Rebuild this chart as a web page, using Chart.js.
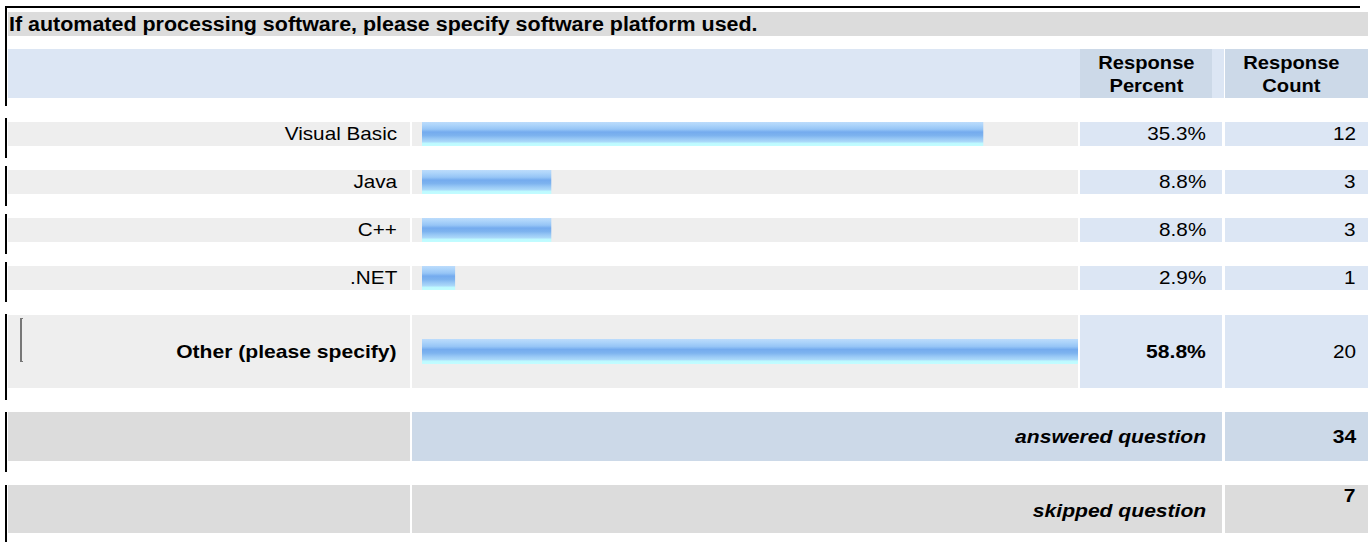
<!DOCTYPE html>
<html>
<head>
<meta charset="utf-8">
<title>Software platform</title>
<script src="https://cdn.jsdelivr.net/npm/chart.js@4/dist/chart.umd.min.js"></script>
<style>
  body { margin: 0; background: #fff; font-family: "Liberation Sans", Arial, sans-serif; color: #000; }
  #page { position: relative; width: 1368px; height: 543px; overflow: hidden; }
  .cell { position: absolute; box-sizing: border-box; display: flex; align-items: center; justify-content: flex-end; padding-right: 12px; font-size: 19px; }
  .cell .t { display: inline-block; transform: scaleX(1.09); transform-origin: right center; white-space: nowrap; }
  .cell.bold .t, .cell.bi .t { transform: scaleX(1.11); }
  .grey { background: #eeeeee; }
  .blue { background: #dce6f4; }
  .steel { background: #ccd9e8; }
  .dark { background: #dcdcdc; }
  .bold { font-weight: bold; }
  .bi { font-weight: bold; font-style: italic; }
  .edge { position: absolute; left: 5px; width: 2px; background: #000; }
  canvas { position: absolute; }
</style>
</head>
<body>
<div id="page"></div>
<script>
const title = 'If automated processing software, please specify software platform used.';
const categories = ['Visual Basic', 'Java', 'C++', '.NET', 'Other (please specify)'];
const percents = [35.3, 8.8, 8.8, 2.9, 58.8];
const counts = [12, 3, 3, 1, 20];
const answeredCount = 34;
const skippedCount = 7;

// row layout
const rowTops = [122, 170, 218, 266, 315];
const rowHeights = [24, 24, 24, 24, 73];
const page = document.getElementById('page');

function box(cls, x, y, w, h, html, extra) {
  const d = document.createElement('div');
  d.className = 'cell ' + cls;
  d.style.left = x + 'px'; d.style.top = y + 'px';
  d.style.width = w + 'px'; d.style.height = h + 'px';
  if (html !== undefined) d.innerHTML = '<span class="t">' + html + '</span>';
  if (extra) Object.assign(d.style, extra);
  page.appendChild(d);
  return d;
}

// black marks down the left side and across the top
[[6, 106], [118, 158], [166, 206], [214, 254], [262, 302], [314, 400], [412, 472], [485, 542]].forEach(s => {
  const e = document.createElement('div');
  e.className = 'edge';
  e.style.top = s[0] + 'px'; e.style.height = (s[1] - s[0]) + 'px';
  page.appendChild(e);
});
const topLine = document.createElement('div');
Object.assign(topLine.style, { position: 'absolute', left: '5px', top: '6px', width: '1355px', height: '2px', background: '#000' });
page.appendChild(topLine);

// title and header
const tt = box('dark bold', 8, 12, 1360, 24, title, { justifyContent: 'flex-start', paddingLeft: '1px', paddingRight: '0', fontSize: '19.5px' });
tt.firstChild.style.transformOrigin = 'left center';
tt.firstChild.style.transform = 'scaleX(1.1)';
box('blue', 8, 49, 1072, 49);
box('steel bold', 1080, 49, 142, 49, 'Response<br>Percent', { justifyContent: 'center', paddingRight: '10px', textAlign: 'center', lineHeight: '23px' });
box('blue', 1212, 49, 10, 49);
box('steel bold', 1225, 49, 143, 49, 'Response<br>Count', { justifyContent: 'center', paddingRight: '10px', textAlign: 'center', lineHeight: '23px' });
page.querySelectorAll('.cell .t').forEach(s => {
  if (s.innerHTML.indexOf('<br>') >= 0) { s.style.transformOrigin = 'center'; s.style.transform = 'scaleX(1.06)'; }
});

const maxIdx = percents.indexOf(Math.max(...percents));

function barFill(ctx) {
  const area = ctx.chart.chartArea;
  if (!area) return '#7fb5f0';
  const g = ctx.chart.ctx.createLinearGradient(0, area.top, 0, area.bottom);
  g.addColorStop(0, '#bcdcfc');
  g.addColorStop(0.14, '#abd3fa');
  g.addColorStop(0.3, '#96c5f6');
  g.addColorStop(0.42, '#74abee');
  g.addColorStop(0.56, '#7db3ef');
  g.addColorStop(0.7, '#98c8f5');
  g.addColorStop(0.83, '#acdafa');
  g.addColorStop(0.88, '#bdf9ff');
  g.addColorStop(1, '#c2fdff');
  return g;
}

categories.forEach((cat, i) => {
  const y = rowTops[i], h = rowHeights[i];
  const strong = i === maxIdx;
  box('grey' + (strong ? ' bold' : ''), 8, y, 402, h, cat, { paddingRight: '13px' });
  box('grey', 412, y, 666, h);
  box('blue' + (strong ? ' bold' : ''), 1080, y, 142, h, percents[i].toFixed(1) + '%', { paddingRight: '16px' });
  box('blue', 1225, y, 143, h, String(counts[i]));

  const thick = h > 30 ? 25 : 24;
  const cv = document.createElement('canvas');
  cv.width = 656; cv.height = thick;
  cv.style.left = '422px';
  cv.style.top = (y + Math.round((h - thick) / 2)) + 'px';
  page.appendChild(cv);
  new Chart(cv, {
    type: 'bar',
    data: {
      labels: [cat],
      datasets: [{ data: [percents[i]], backgroundColor: barFill, borderWidth: 0, borderSkipped: false,
        barThickness: thick, categoryPercentage: 1, barPercentage: 1 }]
    },
    options: {
      indexAxis: 'y', responsive: false, animation: false, events: [],
      layout: { padding: 0 },
      plugins: { legend: { display: false }, tooltip: { enabled: false } },
      scales: {
        x: { display: false, min: 0.89, max: 41.13 },
        y: { display: false }
      }
    }
  });
});

// bracket mark in the "Other" label cell
const br = document.createElement('div');
Object.assign(br.style, { position: 'absolute', left: '20px', top: '318px', width: '3px', height: '44px',
  borderLeft: '2px solid #777', borderTop: '1px solid #777', borderBottom: '1px solid #777', boxSizing: 'border-box' });
page.appendChild(br);

// summary rows
box('dark', 8, 412, 402, 49);
box('steel bi', 412, 412, 810, 49, 'answered question', { paddingRight: '16px' });
box('steel bold', 1225, 412, 143, 49, String(answeredCount));
box('dark', 8, 485, 402, 48);
box('dark bi', 412, 485, 810, 48, 'skipped question', { paddingRight: '16px', alignItems: 'flex-end', paddingBottom: '11px' });
box('dark bold', 1225, 485, 143, 48, String(skippedCount), { alignItems: 'flex-start', paddingTop: '0px' });
</script>
</body>
</html>
